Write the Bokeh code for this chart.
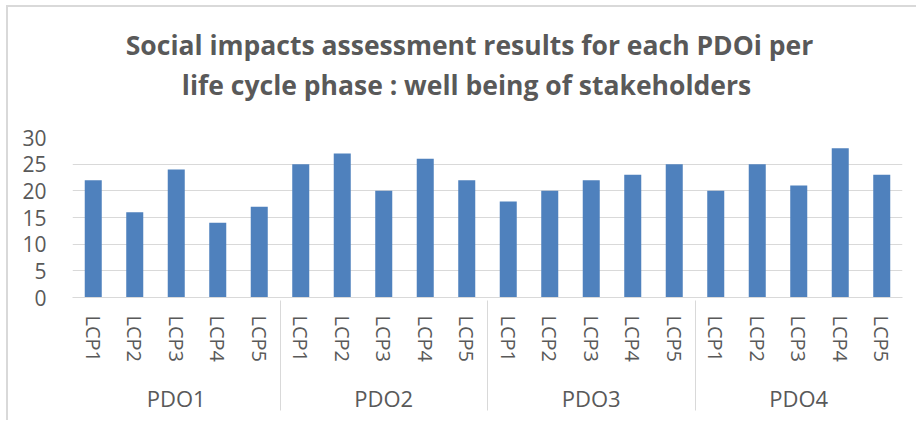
from bokeh.plotting import figure
from bokeh.models import FactorRange, Range1d, SingleIntervalTicker, ColumnDataSource, Title
from bokeh.embed import file_html
from bokeh.resources import INLINE

groups = ["PDO1", "PDO2", "PDO3", "PDO4"]
phases = ["LCP1", "LCP2", "LCP3", "LCP4", "LCP5"]
pdo1 = [22, 16, 24, 14, 17]
pdo2 = [25, 27, 20, 26, 22]
pdo3 = [18, 20, 22, 23, 25]
pdo4 = [20, 25, 21, 28, 23]
title_line1 = "Social impacts assessment results for each PDOi per"
title_line2 = "life cycle phase : well being of stakeholders"

series = [pdo1, pdo2, pdo3, pdo4]
factors = [(g, ph) for g in groups for ph in phases]
vals = [v for s in series for v in s]
src = ColumnDataSource(data=dict(x=factors, y=vals))

FONT = "Open Sans"
GREY = "#595959"
LINE = "#d9d9d9"

p = figure(width=910, height=415, output_backend="svg", toolbar_location=None, title=None,
           x_range=FactorRange(*factors, range_padding=0, group_padding=0, factor_padding=0),
           y_range=Range1d(0, 30),
           min_border_left=64, min_border_right=16, min_border_top=130, min_border_bottom=125)
p.vbar(x="x", top="y", width=0.41, source=src, fill_color="#4f81bd", line_color=None)

title_style = dict(align="center", standoff=0, text_font=FONT, text_font_size="26.5px",
                   text_font_style="bold", text_color=GREY)
t2 = Title(text=title_line2, padding=dict(left=0, right=42, top=0, bottom=35), **title_style)
t1 = Title(text=title_line1, padding=dict(left=0, right=36, top=0, bottom=2), **title_style)
p.add_layout(t2, "above")
p.add_layout(t1, "above")

p.outline_line_color = None
p.xgrid.grid_line_color = None
p.ygrid.grid_line_color = LINE
p.ygrid.grid_line_width = 1

p.yaxis.ticker = SingleIntervalTicker(interval=5)
p.yaxis.axis_line_color = None
p.yaxis.major_tick_line_color = None
p.yaxis.minor_tick_line_color = None
p.yaxis.major_tick_in = 0
p.yaxis.major_tick_out = 0
p.yaxis.major_label_standoff = 22
p.yaxis.major_label_text_font = FONT
p.yaxis.major_label_text_font_size = "21px"
p.yaxis.major_label_text_color = GREY

xa = p.xaxis[0]
xa.axis_line_color = LINE
xa.axis_line_width = 1
xa.major_tick_line_color = None
xa.major_tick_in = 0
xa.major_tick_out = 0
xa.major_label_orientation = "vertical"
xa.major_label_standoff = 18
xa.major_label_text_font = FONT
xa.major_label_text_font_size = "20px"
xa.major_label_text_color = GREY
xa.group_text_font = FONT
xa.group_text_font_size = "22px"
xa.group_text_color = GREY
xa.group_text_font_style = "normal"
xa.separator_line_color = LINE
xa.separator_line_width = 1

p.styles = {"border-left": "2px solid #d9d9d9", "border-top": "2px solid #d9d9d9",
            "margin-left": "6px", "margin-top": "5px"}

open("out.html", "w").write(file_html(p, INLINE))
